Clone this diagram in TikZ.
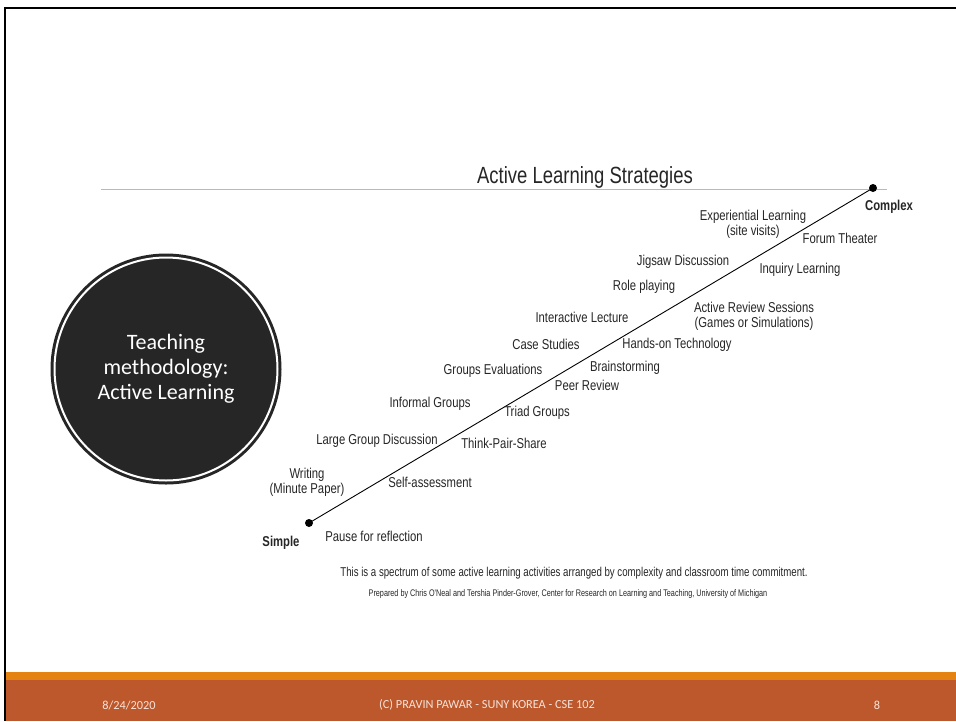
\documentclass[tikz,border=0pt]{standalone}
\usepackage{fontspec}
\usepackage{xcolor}
\usetikzlibrary{positioning,calc}
\newfontfamily\chartfont[FakeStretch=0.79]{Liberation Sans}
\newfontfamily\capfont[FakeStretch=0.755]{Liberation Sans}
\newfontfamily\slidefont{Carlito}
\definecolor{slidedark}{HTML}{262626}
\definecolor{footorange}{HTML}{E48312}
\definecolor{footrust}{HTML}{BD582C}
\definecolor{foottext}{HTML}{F6E3DA}

\begin{document}
\begin{tikzpicture}[x=1pt, y=-1pt,
    lbl/.style={font=\chartfont\fontsize{14.3}{15}\selectfont, align=center, inner sep=0pt, text=black!85},
    endlbl/.style={lbl, font=\chartfont\bfseries\fontsize{14.3}{15}\selectfont},
    dot/.style={circle, fill=black, inner sep=0pt, minimum size=8pt},
    foot/.style={font=\slidefont\fontsize{12.3}{14}\selectfont, text=foottext, inner sep=0pt}]
    \useasboundingbox (0,0) rectangle (956,721);
    \fill[white] (0,0) rectangle (956,721);
    % footer band and slide frame
    \fill[footorange] (6,672) rectangle (956,680);
    \fill[footrust] (6,680) rectangle (956,721);
    \draw[line width=2pt] (5,721) -- (5,8) -- (956,8);
    \node[foot] (fDate) at (129,705) {8/24/2020};
    \node[foot] (fName) at (487,705) {(C) PRAVIN PAWAR - SUNY KOREA - CSE 102};
    \node[foot] (fPage) at (877,705) {8};

    % topic circle
    \node[circle, fill=slidedark, minimum size=231pt, inner sep=0pt, text=white, align=center,
          font=\slidefont\fontsize{22}{25}\selectfont] (topic) at (166,369) {Teaching\\methodology:\\Active Learning};
    \draw[white, line width=2pt] (topic.center) circle (111.5);

    % title and rule
    \draw[gray!55, line width=1pt] (101,189) -- (887,189);
    \node[lbl, font=\chartfont\fontsize{23.4}{25}\selectfont] (title) at (585,177) {Active Learning Strategies};

    % spectrum line
    \node[dot] (pSimple) at (309,523) {};
    \node[dot] (pComplex) at (873,188) {};
    \draw[line width=0.9pt] (pSimple.center) -- (pComplex.center);
    \node[endlbl] (lSimple) at (281,543) {Simple};
    \node[endlbl] (lComplex) at (889,207) {Complex};

    \foreach \nm/\x/\y/\lab in {lExp/753/224/{Experiential Learning\\(site visits)},
        lForum/840/238/Forum Theater, lJig/683/262/Jigsaw Discussion,
        lInq/800/270/Inquiry Learning, lRole/644/287/Role playing,
        lRev/754/316/{Active Review Sessions\\(Games or Simulations)},
        lLect/582/317/Interactive Lecture, lCase/546/344/Case Studies,
        lHands/677/345/Hands-on Technology, lEval/493/371/Groups Evaluations,
        lBrain/625/368/Brainstorming, lPeer/587/385/Peer Review,
        lInf/430/404/Informal Groups, lTriad/537/413/Triad Groups,
        lLarge/377/441/Large Group Discussion, lTps/504/443/Think-Pair-Share,
        lWrite/307/482/{Writing\\(Minute Paper)}, lSelf/430/482/Self-assessment,
        lPause/374/536/Pause for reflection} {
        \node[lbl] (\nm) at (\x,\y) {\lab};
    }

    % caption lines
    \node[lbl, font=\capfont\fontsize{12.8}{14}\selectfont] (capMain) at (574,573)
        {This is a spectrum of some active learning activities arranged by complexity and classroom time commitment.};
    \node[lbl, font=\capfont\fontsize{9.6}{11}\selectfont] (capSrc) at (568,594)
        {Prepared by Chris O'Neal and Tershia Pinder-Grover, Center for Research on Learning and Teaching, University of Michigan};
\end{tikzpicture}
\end{document}
